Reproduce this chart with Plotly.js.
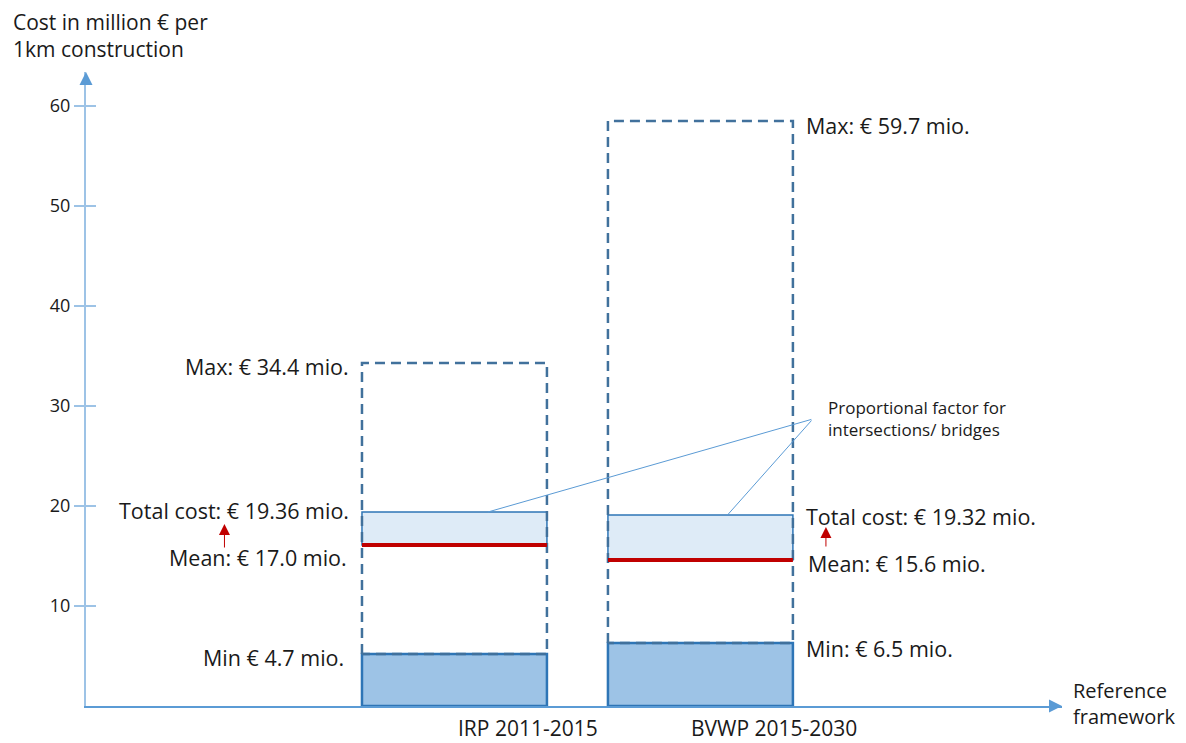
<!DOCTYPE html>
<html>
<head>
<meta charset="utf-8">
<script src="https://cdn.plot.ly/plotly-3.0.1.min.js"></script>
<style>html,body{margin:0;padding:0;background:#fff;}#chart{width:1186px;height:743px;}</style>
</head>
<body>
<div id="chart"></div>
<script>
// ---- data ----
const categories = ["IRP 2011-2015", "BVWP 2015-2030"];
const minValues = [5.2, 6.3];
const meanValues = [16.1, 14.6];
const totalValues = [19.4, 19.1];
const maxValues = [34.3, 58.5];
const maxLabels = ["Max: € 34.4 mio.", "Max: € 59.7 mio."];
const totalLabels = ["Total cost: € 19.36 mio.", "Total cost: € 19.32 mio."];
const meanLabels = ["Mean: € 17.0 mio.", "Mean: € 15.6 mio."];
const minLabels = ["Min € 4.7 mio.", "Min: € 6.5 mio."];
const yTickVals = [10, 20, 30, 40, 50, 60];
const calloutText = "Proportional factor for<br>intersections/ bridges";
const yTitle = "Cost in million € per<br>1km construction";
const xTitle = "Reference<br>framework";

// ---- styling ----
const W = 0.752;          // box width in category units
const xs = categories.map((c, i) => i);
const FONT = "'Open Sans', Lato, sans-serif";
const TXT = "#1a1a1a";
const FS = 21.5;

const traces = [];
// min bar
traces.push({
  type: "bar", x: xs, y: minValues, base: xs.map(() => 0), width: W,
  marker: {color: "#9DC3E6", line: {color: "#2E75B6", width: 2.5}},
  hoverinfo: "skip", showlegend: false
});
// total - mean bar
traces.push({
  type: "bar", x: xs, y: totalValues.map((t, i) => t - meanValues[i]), base: meanValues, width: W,
  marker: {color: "#DEEBF7", line: {color: "#2E75B6", width: 1.5}},
  hoverinfo: "skip", showlegend: false
});
// dashed min-max boxes
xs.forEach((c, i) => {
  traces.push({
    type: "scatter", mode: "lines",
    x: [c - W/2, c - W/2, c + W/2, c + W/2, c - W/2],
    y: [minValues[i], maxValues[i], maxValues[i], minValues[i], minValues[i]],
    line: {color: "#41719C", width: 2.5, dash: "10px,6px"},
    hoverinfo: "skip", showlegend: false
  });
});
// mean lines
xs.forEach((c, i) => {
  traces.push({
    type: "scatter", mode: "lines",
    x: [c - W/2, c + W/2], y: [meanValues[i], meanValues[i]],
    line: {color: "#C00000", width: 4},
    hoverinfo: "skip", showlegend: false
  });
});
// dummy for inside ticks axis
traces.push({type: "scatter", x: [null], y: [null], yaxis: "y2", showlegend: false, hoverinfo: "skip"});

const annotations = [];
function txt(x, y, text, xanchor, xshift, yshift, extra) {
  return Object.assign({
    x: x, y: y, xref: "x", yref: "y", text: text, showarrow: false,
    xanchor: xanchor, yanchor: "middle", xshift: xshift, yshift: yshift,
    font: {family: FONT, size: FS, color: TXT}
  }, extra || {});
}
xs.forEach((c, i) => {
  const left = i === 0;
  const ex = left ? c - W/2 : c + W/2;
  const anc = left ? "right" : "left";
  const s = left ? -1 : 1;
  annotations.push(txt(ex, maxValues[i], maxLabels[i], anc, s * 11, left ? -3 : -4));
  annotations.push(txt(ex, totalValues[i], totalLabels[i], anc, s * 11, left ? 2 : -1));
  annotations.push(txt(ex, meanValues[i], meanLabels[i], anc, s * 13, left ? -12 : -3));
  annotations.push(txt(ex, minValues[i], minLabels[i], anc, s * (left ? 16 : 11), left ? -3 : -5));
  // red arrows (mean -> total)
  annotations.push({
    x: c, y: totalValues[i], xref: "x", yref: "y", text: "", showarrow: true,
    xshift: left ? -230 : 125.5, yshift: -12, ax: 0, ay: left ? 25 : 21,
    arrowhead: 2, arrowsize: 2.2, arrowwidth: 1, arrowcolor: "#C00000", standoff: 0, startstandoff: 0
  });
  // category labels
  annotations.push({
    x: c, y: 0, xref: "x", yref: "y", text: categories[i], showarrow: false,
    xanchor: "center", yanchor: "middle", xshift: 74, yshift: -22, borderpad: 0,
    font: {family: FONT, size: 21, color: TXT}
  });
  // callout lines
  annotations.push({
    x: c + (left ? 0.136 : 0.11), y: totalValues[i], xref: "x", yref: "y",
    ax: 1.457, ay: 28.7, axref: "x", ayref: "y", text: "", showarrow: true,
    arrowhead: 0, arrowwidth: 1, arrowcolor: "#5B9BD5", standoff: 0
  });
});
annotations.push({
  x: 1.51, y: 28.75, xref: "x", yref: "y", text: calloutText, showarrow: false,
  xanchor: "left", yanchor: "middle", align: "left",
  font: {family: FONT, size: 17, color: TXT}
});
annotations.push({
  x: -0.0768, y: 1.0568, xref: "paper", yref: "paper", text: yTitle, showarrow: false,
  xanchor: "left", yanchor: "middle", align: "left",
  font: {family: FONT, size: 21, color: TXT}
});
annotations.push({
  x: 1.0092, y: 0.004, xref: "paper", yref: "paper", text: xTitle, showarrow: false,
  xanchor: "left", yanchor: "middle", align: "left",
  font: {family: FONT, size: 20, color: TXT}
});
// axis arrows
annotations.push({x: 0, y: 1, xref: "paper", yref: "paper", text: "", showarrow: true,
  ax: 0, ay: 14, arrowhead: 2, arrowsize: 1.3, arrowwidth: 2, arrowcolor: "#5B9BD5", standoff: 0});
annotations.push({x: 1, y: 0, xref: "paper", yref: "paper", text: "", showarrow: true,
  ax: -14, ay: 0, arrowhead: 2, arrowsize: 1.3, arrowwidth: 2, arrowcolor: "#5B9BD5", standoff: 0});

const yr = [0, 63.4];
const layout = {
  width: 1186, height: 743,
  margin: {l: 86, r: 124, t: 72, b: 37},
  paper_bgcolor: "#fff", plot_bgcolor: "#fff",
  barmode: "overlay", showlegend: false,
  xaxis: {range: [-1.498, 2.470], showline: true, linecolor: "#5B9BD5", linewidth: 1.5,
    showgrid: false, zeroline: false, showticklabels: false, ticks: "", fixedrange: true},
  yaxis: {range: yr, showline: true, linecolor: "#9DC3E6", linewidth: 2,
    ticks: "outside", ticklen: 10, tickwidth: 1.5, tickcolor: "#9DC3E6",
    tickvals: yTickVals, showgrid: false, zeroline: false,
    tickfont: {family: FONT, size: 18, color: TXT}},
  yaxis2: {range: yr, overlaying: "y", side: "left", anchor: "x", showline: false,
    ticks: "inside", ticklen: 10, tickwidth: 1.5, tickcolor: "#9DC3E6",
    tickvals: yTickVals, showticklabels: false, showgrid: false, zeroline: false},
  annotations: annotations
};
Plotly.newPlot("chart", traces, layout, {displayModeBar: false, staticPlot: true});
</script>
</body>
</html>
